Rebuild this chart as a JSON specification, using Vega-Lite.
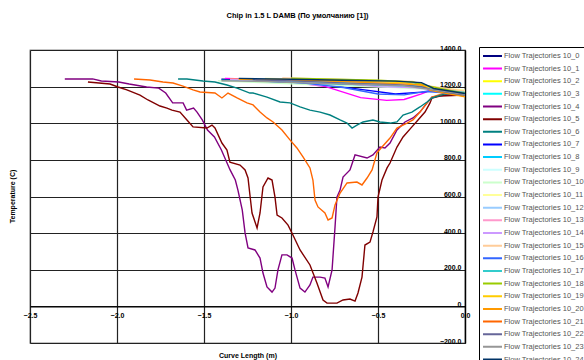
{
  "$schema": "https://vega.github.io/schema/vega-lite/v6.json",
  "autosize": "none",
  "width": 435,
  "height": 293,
  "padding": {"left": 30, "top": 50, "right": 119, "bottom": 17},
  "background": "white",
  "config": {
    "font": "Liberation Sans",
    "view": {"stroke": "#888888", "strokeWidth": 1.3}
  },
  "title": {
    "text": "Chip in 1.5 L DAMB (По умолчанию [1])",
    "fontSize": 7.5,
    "fontWeight": "bold",
    "color": "black",
    "anchor": "middle",
    "dx": 50,
    "baseline": "middle",
    "offset": 20.5
  },
  "data": {
    "values": [
      {"s":"10_4","x":-2.30,"t":1242},{"s":"10_4","x":-2.14,"t":1242},{"s":"10_4","x":-2.09,"t":1231},{"s":"10_4","x":-1.99,"t":1225},{"s":"10_4","x":-1.93,"t":1214},{"s":"10_4","x":-1.83,"t":1198},{"s":"10_4","x":-1.76,"t":1192},{"s":"10_4","x":-1.72,"t":1165},{"s":"10_4","x":-1.68,"t":1111},{"s":"10_4","x":-1.62,"t":1111},{"s":"10_4","x":-1.60,"t":1072},{"s":"10_4","x":-1.56,"t":1083},{"s":"10_4","x":-1.54,"t":1061},{"s":"10_4","x":-1.51,"t":1018},{"s":"10_4","x":-1.48,"t":963},{"s":"10_4","x":-1.44,"t":925},{"s":"10_4","x":-1.40,"t":854},{"s":"10_4","x":-1.35,"t":745},{"s":"10_4","x":-1.32,"t":690},{"s":"10_4","x":-1.305,"t":635},{"s":"10_4","x":-1.28,"t":526},{"s":"10_4","x":-1.264,"t":401},{"s":"10_4","x":-1.247,"t":319},{"s":"10_4","x":-1.207,"t":308},{"s":"10_4","x":-1.178,"t":264},{"s":"10_4","x":-1.161,"t":182},{"s":"10_4","x":-1.138,"t":106},{"s":"10_4","x":-1.109,"t":78},{"s":"10_4","x":-1.092,"t":100},{"s":"10_4","x":-1.075,"t":199},{"s":"10_4","x":-1.052,"t":281},{"s":"10_4","x":-1.023,"t":281},{"s":"10_4","x":-0.994,"t":264},{"s":"10_4","x":-0.977,"t":199},{"s":"10_4","x":-0.948,"t":100},{"s":"10_4","x":-0.920,"t":78},{"s":"10_4","x":-0.891,"t":117},{"s":"10_4","x":-0.874,"t":160},{"s":"10_4","x":-0.833,"t":160},{"s":"10_4","x":-0.805,"t":155},{"s":"10_4","x":-0.787,"t":106},{"s":"10_4","x":-0.764,"t":199},{"s":"10_4","x":-0.747,"t":433},{"s":"10_4","x":-0.736,"t":597},{"s":"10_4","x":-0.718,"t":635},{"s":"10_4","x":-0.701,"t":706},{"s":"10_4","x":-0.661,"t":745},{"s":"10_4","x":-0.632,"t":827},{"s":"10_4","x":-0.563,"t":810},{"s":"10_4","x":-0.529,"t":827},{"s":"10_4","x":-0.489,"t":870},{"s":"10_4","x":-0.460,"t":865},{"s":"10_4","x":-0.431,"t":892},{"s":"10_4","x":-0.391,"t":963},{"s":"10_4","x":-0.345,"t":1007},{"s":"10_4","x":-0.299,"t":1029},{"s":"10_4","x":-0.259,"t":1061},{"s":"10_4","x":-0.218,"t":1111},{"s":"10_4","x":-0.190,"t":1143},{"s":"10_4","x":-0.115,"t":1154},{"s":"10_4","x":0,"t":1160},

      {"s":"10_5","x":-2.167,"t":1225},{"s":"10_5","x":-2.04,"t":1214},{"s":"10_5","x":-1.994,"t":1198},{"s":"10_5","x":-1.943,"t":1182},{"s":"10_5","x":-1.868,"t":1154},{"s":"10_5","x":-1.822,"t":1127},{"s":"10_5","x":-1.753,"t":1094},{"s":"10_5","x":-1.713,"t":1083},{"s":"10_5","x":-1.684,"t":1072},{"s":"10_5","x":-1.638,"t":1061},{"s":"10_5","x":-1.598,"t":1018},{"s":"10_5","x":-1.563,"t":980},{"s":"10_5","x":-1.483,"t":974},{"s":"10_5","x":-1.454,"t":990},{"s":"10_5","x":-1.437,"t":974},{"s":"10_5","x":-1.397,"t":892},{"s":"10_5","x":-1.368,"t":854},{"s":"10_5","x":-1.351,"t":788},{"s":"10_5","x":-1.293,"t":772},{"s":"10_5","x":-1.264,"t":745},{"s":"10_5","x":-1.247,"t":701},{"s":"10_5","x":-1.236,"t":608},{"s":"10_5","x":-1.224,"t":510},{"s":"10_5","x":-1.195,"t":428},{"s":"10_5","x":-1.178,"t":510},{"s":"10_5","x":-1.161,"t":652},{"s":"10_5","x":-1.132,"t":701},{"s":"10_5","x":-1.109,"t":690},{"s":"10_5","x":-1.092,"t":597},{"s":"10_5","x":-1.08,"t":499},{"s":"10_5","x":-1.052,"t":483},{"s":"10_5","x":-1.017,"t":444},{"s":"10_5","x":-0.989,"t":390},{"s":"10_5","x":-0.948,"t":308},{"s":"10_5","x":-0.891,"t":226},{"s":"10_5","x":-0.851,"t":128},{"s":"10_5","x":-0.816,"t":35},{"s":"10_5","x":-0.793,"t":18},{"s":"10_5","x":-0.736,"t":18},{"s":"10_5","x":-0.701,"t":35},{"s":"10_5","x":-0.661,"t":40},{"s":"10_5","x":-0.632,"t":29},{"s":"10_5","x":-0.615,"t":73},{"s":"10_5","x":-0.592,"t":160},{"s":"10_5","x":-0.575,"t":335},{"s":"10_5","x":-0.546,"t":351},{"s":"10_5","x":-0.529,"t":406},{"s":"10_5","x":-0.506,"t":488},{"s":"10_5","x":-0.5,"t":597},{"s":"10_5","x":-0.477,"t":690},{"s":"10_5","x":-0.448,"t":756},{"s":"10_5","x":-0.431,"t":783},{"s":"10_5","x":-0.391,"t":870},{"s":"10_5","x":-0.356,"t":925},{"s":"10_5","x":-0.305,"t":980},{"s":"10_5","x":-0.27,"t":1018},{"s":"10_5","x":-0.23,"t":1061},{"s":"10_5","x":-0.201,"t":1111},{"s":"10_5","x":-0.19,"t":1138},{"s":"10_5","x":-0.144,"t":1149},{"s":"10_5","x":0,"t":1154},

      {"s":"10_21","x":-1.902,"t":1242},{"s":"10_21","x":-1.81,"t":1236},{"s":"10_21","x":-1.736,"t":1225},{"s":"10_21","x":-1.678,"t":1220},{"s":"10_21","x":-1.621,"t":1203},{"s":"10_21","x":-1.563,"t":1182},{"s":"10_21","x":-1.523,"t":1171},{"s":"10_21","x":-1.437,"t":1165},{"s":"10_21","x":-1.397,"t":1138},{"s":"10_21","x":-1.362,"t":1165},{"s":"10_21","x":-1.31,"t":1138},{"s":"10_21","x":-1.253,"t":1111},{"s":"10_21","x":-1.218,"t":1100},{"s":"10_21","x":-1.178,"t":1061},{"s":"10_21","x":-1.138,"t":1029},{"s":"10_21","x":-1.103,"t":1007},{"s":"10_21","x":-1.052,"t":963},{"s":"10_21","x":-1.006,"t":909},{"s":"10_21","x":-0.966,"t":865},{"s":"10_21","x":-0.931,"t":816},{"s":"10_21","x":-0.891,"t":756},{"s":"10_21","x":-0.874,"t":690},{"s":"10_21","x":-0.862,"t":581},{"s":"10_21","x":-0.845,"t":543},{"s":"10_21","x":-0.805,"t":510},{"s":"10_21","x":-0.787,"t":472},{"s":"10_21","x":-0.764,"t":483},{"s":"10_21","x":-0.747,"t":554},{"s":"10_21","x":-0.718,"t":619},{"s":"10_21","x":-0.678,"t":674},{"s":"10_21","x":-0.621,"t":679},{"s":"10_21","x":-0.592,"t":663},{"s":"10_21","x":-0.563,"t":701},{"s":"10_21","x":-0.534,"t":745},{"s":"10_21","x":-0.506,"t":838},{"s":"10_21","x":-0.477,"t":870},{"s":"10_21","x":-0.431,"t":919},{"s":"10_21","x":-0.391,"t":974},{"s":"10_21","x":-0.333,"t":1001},{"s":"10_21","x":-0.299,"t":1018},{"s":"10_21","x":-0.259,"t":1061},{"s":"10_21","x":-0.218,"t":1111},{"s":"10_21","x":-0.19,"t":1143},{"s":"10_21","x":-0.115,"t":1165},{"s":"10_21","x":0,"t":1171},

      {"s":"10_6","x":-1.649,"t":1242},{"s":"10_6","x":-1.598,"t":1242},{"s":"10_6","x":-1.506,"t":1231},{"s":"10_6","x":-1.437,"t":1225},{"s":"10_6","x":-1.368,"t":1209},{"s":"10_6","x":-1.31,"t":1192},{"s":"10_6","x":-1.236,"t":1165},{"s":"10_6","x":-1.218,"t":1165},{"s":"10_6","x":-1.138,"t":1143},{"s":"10_6","x":-1.063,"t":1116},{"s":"10_6","x":-1.006,"t":1111},{"s":"10_6","x":-0.948,"t":1089},{"s":"10_6","x":-0.891,"t":1072},{"s":"10_6","x":-0.833,"t":1061},{"s":"10_6","x":-0.776,"t":1045},{"s":"10_6","x":-0.718,"t":1018},{"s":"10_6","x":-0.678,"t":1001},{"s":"10_6","x":-0.649,"t":974},{"s":"10_6","x":-0.621,"t":990},{"s":"10_6","x":-0.586,"t":1007},{"s":"10_6","x":-0.529,"t":1018},{"s":"10_6","x":-0.489,"t":1007},{"s":"10_6","x":-0.431,"t":1001},{"s":"10_6","x":-0.391,"t":1007},{"s":"10_6","x":-0.356,"t":1045},{"s":"10_6","x":-0.305,"t":1061},{"s":"10_6","x":-0.259,"t":1089},{"s":"10_6","x":-0.218,"t":1116},{"s":"10_6","x":-0.19,"t":1138},{"s":"10_6","x":-0.115,"t":1160},{"s":"10_6","x":0,"t":1165},

      {"s":"10_0","x":-1.40,"t":1240},{"s":"10_0","x":-1.2,"t":1236},{"s":"10_0","x":-1.0,"t":1232},{"s":"10_0","x":-0.7,"t":1228},{"s":"10_0","x":-0.4,"t":1222},{"s":"10_0","x":-0.25,"t":1215},{"s":"10_0","x":-0.2,"t":1185},{"s":"10_0","x":-0.1,"t":1170},{"s":"10_0","x":0,"t":1165},
      {"s":"10_1","x":-1.38,"t":1245},{"s":"10_1","x":-1.2,"t":1240},{"s":"10_1","x":-1.0,"t":1225},{"s":"10_1","x":-0.8,"t":1200},{"s":"10_1","x":-0.6,"t":1140},{"s":"10_1","x":-0.45,"t":1125},{"s":"10_1","x":-0.35,"t":1130},{"s":"10_1","x":-0.25,"t":1160},{"s":"10_1","x":-0.2,"t":1180},{"s":"10_1","x":-0.1,"t":1175},{"s":"10_1","x":0,"t":1170},
      {"s":"10_2","x":-1.35,"t":1240},{"s":"10_2","x":-1.1,"t":1238},{"s":"10_2","x":-0.8,"t":1230},{"s":"10_2","x":-0.5,"t":1220},{"s":"10_2","x":-0.3,"t":1215},{"s":"10_2","x":-0.22,"t":1200},{"s":"10_2","x":-0.1,"t":1180},{"s":"10_2","x":0,"t":1175},
      {"s":"10_3","x":-1.30,"t":1242},{"s":"10_3","x":-1.0,"t":1235},{"s":"10_3","x":-0.7,"t":1232},{"s":"10_3","x":-0.5,"t":1228},{"s":"10_3","x":-0.3,"t":1218},{"s":"10_3","x":-0.2,"t":1190},{"s":"10_3","x":0,"t":1168},
      {"s":"10_7","x":-1.25,"t":1238},{"s":"10_7","x":-1.0,"t":1225},{"s":"10_7","x":-0.8,"t":1210},{"s":"10_7","x":-0.6,"t":1185},{"s":"10_7","x":-0.4,"t":1160},{"s":"10_7","x":-0.25,"t":1170},{"s":"10_7","x":-0.2,"t":1175},{"s":"10_7","x":0,"t":1160},
      {"s":"10_8","x":-1.4,"t":1235},{"s":"10_8","x":-1.1,"t":1225},{"s":"10_8","x":-0.8,"t":1215},{"s":"10_8","x":-0.5,"t":1205},{"s":"10_8","x":-0.3,"t":1200},{"s":"10_8","x":-0.2,"t":1185},{"s":"10_8","x":0,"t":1172},
      {"s":"10_9","x":-1.2,"t":1240},{"s":"10_9","x":-0.9,"t":1230},{"s":"10_9","x":-0.6,"t":1218},{"s":"10_9","x":-0.35,"t":1205},{"s":"10_9","x":-0.2,"t":1190},{"s":"10_9","x":0,"t":1178},
      {"s":"10_10","x":-1.42,"t":1232},{"s":"10_10","x":-1.25,"t":1225},{"s":"10_10","x":-1.0,"t":1215},{"s":"10_10","x":-0.7,"t":1205},{"s":"10_10","x":-0.4,"t":1195},{"s":"10_10","x":-0.22,"t":1185},{"s":"10_10","x":0,"t":1170},
      {"s":"10_11","x":-1.15,"t":1245},{"s":"10_11","x":-0.9,"t":1240},{"s":"10_11","x":-0.6,"t":1232},{"s":"10_11","x":-0.35,"t":1220},{"s":"10_11","x":-0.22,"t":1200},{"s":"10_11","x":0,"t":1180},
      {"s":"10_12","x":-1.3,"t":1235},{"s":"10_12","x":-1.05,"t":1228},{"s":"10_12","x":-0.8,"t":1222},{"s":"10_12","x":-0.5,"t":1212},{"s":"10_12","x":-0.3,"t":1205},{"s":"10_12","x":-0.2,"t":1188},{"s":"10_12","x":0,"t":1165},
      {"s":"10_13","x":-1.1,"t":1240},{"s":"10_13","x":-0.85,"t":1235},{"s":"10_13","x":-0.6,"t":1225},{"s":"10_13","x":-0.4,"t":1215},{"s":"10_13","x":-0.25,"t":1210},{"s":"10_13","x":-0.2,"t":1192},{"s":"10_13","x":0,"t":1170},
      {"s":"10_14","x":-1.35,"t":1238},{"s":"10_14","x":-1.0,"t":1230},{"s":"10_14","x":-0.75,"t":1222},{"s":"10_14","x":-0.5,"t":1200},{"s":"10_14","x":-0.3,"t":1195},{"s":"10_14","x":-0.2,"t":1185},{"s":"10_14","x":0,"t":1160},
      {"s":"10_15","x":-1.05,"t":1248},{"s":"10_15","x":-0.8,"t":1242},{"s":"10_15","x":-0.55,"t":1235},{"s":"10_15","x":-0.3,"t":1228},{"s":"10_15","x":-0.22,"t":1205},{"s":"10_15","x":0,"t":1175},
      {"s":"10_16","x":-1.2,"t":1232},{"s":"10_16","x":-0.95,"t":1222},{"s":"10_16","x":-0.7,"t":1195},{"s":"10_16","x":-0.5,"t":1160},{"s":"10_16","x":-0.35,"t":1155},{"s":"10_16","x":-0.22,"t":1175},{"s":"10_16","x":0,"t":1155},
      {"s":"10_17","x":-1.28,"t":1240},{"s":"10_17","x":-1.0,"t":1232},{"s":"10_17","x":-0.75,"t":1222},{"s":"10_17","x":-0.55,"t":1215},{"s":"10_17","x":-0.3,"t":1205},{"s":"10_17","x":-0.2,"t":1190},{"s":"10_17","x":0,"t":1168},
      {"s":"10_18","x":-1.0,"t":1246},{"s":"10_18","x":-0.75,"t":1240},{"s":"10_18","x":-0.5,"t":1235},{"s":"10_18","x":-0.3,"t":1225},{"s":"10_18","x":-0.22,"t":1205},{"s":"10_18","x":0,"t":1162},
      {"s":"10_19","x":-1.15,"t":1242},{"s":"10_19","x":-0.9,"t":1238},{"s":"10_19","x":-0.6,"t":1230},{"s":"10_19","x":-0.35,"t":1222},{"s":"10_19","x":-0.22,"t":1200},{"s":"10_19","x":0,"t":1150},
      {"s":"10_20","x":-1.3,"t":1240},{"s":"10_20","x":-1.0,"t":1236},{"s":"10_20","x":-0.7,"t":1228},{"s":"10_20","x":-0.45,"t":1218},{"s":"10_20","x":-0.25,"t":1210},{"s":"10_20","x":-0.2,"t":1180},{"s":"10_20","x":0,"t":1145},
      {"s":"10_22","x":-1.22,"t":1238},{"s":"10_22","x":-0.95,"t":1230},{"s":"10_22","x":-0.65,"t":1218},{"s":"10_22","x":-0.4,"t":1210},{"s":"10_22","x":-0.25,"t":1200},{"s":"10_22","x":-0.2,"t":1185},{"s":"10_22","x":0,"t":1152},
      {"s":"10_23","x":-1.4,"t":1232},{"s":"10_23","x":-1.15,"t":1228},{"s":"10_23","x":-0.9,"t":1220},{"s":"10_23","x":-0.6,"t":1212},{"s":"10_23","x":-0.35,"t":1205},{"s":"10_23","x":-0.2,"t":1185},{"s":"10_23","x":0,"t":1158},
      {"s":"10_24","x":-1.3,"t":1245},{"s":"10_24","x":-1.0,"t":1240},{"s":"10_24","x":-0.7,"t":1235},{"s":"10_24","x":-0.4,"t":1230},{"s":"10_24","x":-0.25,"t":1222},{"s":"10_24","x":-0.18,"t":1190},{"s":"10_24","x":0,"t":1162}
    ]
  },
  "mark": {"type": "line", "strokeWidth": 1.4, "clip": true},
  "encoding": {
    "x": {
      "field": "x",
      "type": "quantitative",
      "scale": {"domain": [-2.5, 0], "nice": false, "zero": false},
      "axis": {
        "title": "Curve Length (m)",
        "orient": "bottom",
        "offset": -36.6,
        "values": [-2.5, -2, -1.5, -1, -0.5, 0],
        "domainColor": "black",
        "domainWidth": 1.3,
        "ticks": false,
        "labelPadding": 5,
        "labelFontSize": 7,
        "labelFontWeight": "bold",
        "labelColor": "black",
        "labelFlush": false,
        "grid": true,
        "gridColor": "#222222",
        "gridWidth": 1.2,
        "titleFontSize": 7,
        "titleFontWeight": "bold",
        "titleColor": "black",
        "titleY": 49,
        "titleBaseline": "middle"
      }
    },
    "y": {
      "field": "t",
      "type": "quantitative",
      "scale": {"domain": [-200, 1400], "nice": false, "zero": false},
      "axis": {
        "title": "Temperature (C)",
        "orient": "right",
        "values": [-200, 0, 200, 400, 600, 800, 1000, 1200, 1400],
        "labelExpr": "datum.value == 0 ? '0' : format(datum.value, '.1f')",
        "domainColor": "black",
        "domainWidth": 1.3,
        "ticks": false,
        "labelAlign": "right",
        "labelBaseline": "middle",
        "labelPadding": -4,
        "labelOffset": -2,
        "labelFontSize": 7,
        "labelFontWeight": "bold",
        "labelColor": "black",
        "labelFlush": false,
        "grid": true,
        "gridColor": "#222222",
        "gridWidth": 1.2,
        "titleFontSize": 7,
        "titleFontWeight": "bold",
        "titleColor": "black",
        "titleAngle": -90,
        "titleX": -453,
        "titleY": 146,
        "titleAlign": "center",
        "titleBaseline": "middle"
      }
    },
    "color": {
      "field": "s",
      "type": "nominal",
      "scale": {
        "domain": ["10_0","10_1","10_2","10_3","10_4","10_5","10_6","10_7","10_8","10_9","10_10","10_11","10_12","10_13","10_14","10_15","10_16","10_17","10_18","10_19","10_20","10_21","10_22","10_23","10_24"],
        "range": ["#000080","#FF00FF","#FFFF00","#00FFFF","#800080","#800000","#008080","#0000FF","#00CCFF","#CCFFFF","#CCFFCC","#FFFF99","#99CCFF","#FF99CC","#CC99FF","#FFCC99","#3366FF","#33CCCC","#99CC00","#FFCC00","#FF9900","#FF6600","#666699","#969696","#003366"]
      },
      "legend": {
        "title": null,
        "orient": "none",
        "legendX": 449,
        "legendY": -3,
        "direction": "vertical",
        "columns": 1,
        "strokeColor": "black",
        "fillColor": "white",
        "padding": 3,
        "symbolType": "stroke",
        "symbolSize": 360,
        "symbolStrokeWidth": 2,
        "clipHeight": 11.8,
        "rowPadding": 0.65,
        "labelOffset": 1,
        "labelFontSize": 7.5,
        "labelColor": "#555555",
        "labelLimit": 300,
        "labelExpr": "'Flow Trajectories ' + datum.label"
      }
    }
  }
}
